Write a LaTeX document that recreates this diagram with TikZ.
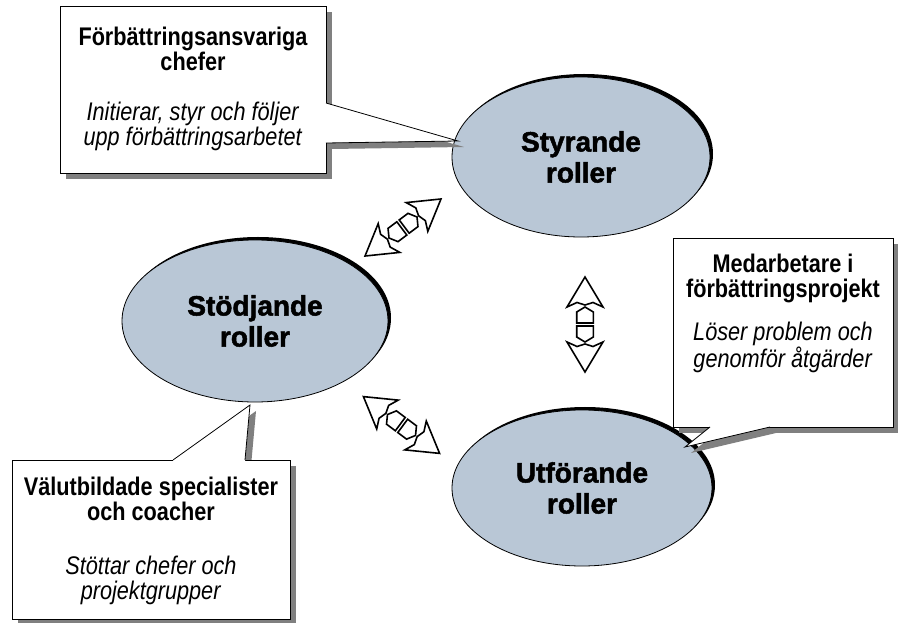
\documentclass[tikz,border=0pt]{standalone}
\usepackage{fontspec}
\setmainfont{Liberation Sans}
\newfontfamily\notefont{Liberation Sans}[FakeStretch=0.85]
\newfontfamily\rolefont{Liberation Sans}[BoldFeatures={FakeBold=1.8}]
\usetikzlibrary{calc,shapes.geometric,shadows}
\definecolor{rolefill}{RGB}{185,199,214}
\definecolor{noteshadow}{RGB}{128,128,128}
\newcommand{\dblarrow}[2]{
	\begin{scope}[shift={(#1)},rotate=#2]
	\draw[arrowline] (47.5,0) -- (17.5,18) -- (22,8) -- (19.5,0) -- (22,-8) -- (17.5,-18) -- cycle;
	\draw[arrowline] (-47.5,0) -- (-17.5,18) -- (-22,8) -- (-19.5,0) -- (-22,-8) -- (-17.5,-18) -- cycle;
	\draw[arrowline] (17.5,0) -- (12.5,8.3) -- (1.5,8.3) -- (1.5,-8.3) -- (12.5,-8.3) -- cycle;
	\draw[arrowline] (-17.5,0) -- (-12.5,8.3) -- (-1.5,8.3) -- (-1.5,-8.3) -- (-12.5,-8.3) -- cycle;
	\end{scope}
}
\newcommand{\ptrshadow}[3]{
	\fill[noteshadow] ($(#1)+(6,-6)$) -- ($(#2)+(6,-6)$) -- ($(#3)+(6,-6)$) -- cycle;
}
\newcommand{\ptr}[4]{
	\fill[white] ($(#1)+(#4)$) -- (#1) -- (#2) -- (#3) -- ($(#3)+(#4)$) -- cycle;
	\draw[noteline] (#1) -- (#2) -- (#3);
}

\begin{document}
\begin{tikzpicture}[x=1pt,y=1pt,
	role/.style={ellipse, draw, fill=rolefill, line width=0.8pt, align=center,
		font=\rolefont\bfseries\fontsize{28}{31}\selectfont,
		general shadow={fill=black, shadow xshift=3pt, shadow yshift=3pt}},
	notebox/.style={draw, fill=white, line width=0.8pt,
		general shadow={fill=noteshadow, shadow xshift=6pt, shadow yshift=-6pt}},
	notetext/.style={align=center, font=\notefont\fontsize{25.5}{25}\selectfont},
	noteline/.style={line width=0.8pt},
	arrowline/.style={line width=1.6pt, line join=miter}]
	\useasboundingbox (0,0) rectangle (898,622);

	% roles
	\node[role, minimum width=258pt, minimum height=160pt] (sty) at (581,465) {Styrande\\roller};
	\node[role, minimum width=266pt, minimum height=162pt] (stod) at (255,301) {Stödjande\\roller};
	\node[role, minimum width=260pt, minimum height=156pt] (utf) at (582,134) {Utförande\\roller};

	% double arrows
	\coordinate (a1) at (403,394.5);
	\coordinate (a2) at (585,297.5);
	\coordinate (a3) at (401.5,197);
	\dblarrow{a1}{36.9}
	\dblarrow{a2}{90}
	\dblarrow{a3}{-36.7}

	% callouts
	\coordinate (c1p) at (326,519); \coordinate (c1q) at (326,479); \coordinate (c1tip) at (458,481);
	\coordinate (c2p) at (710,195); \coordinate (c2q) at (770,195); \coordinate (c2tip) at (685,175);
	\coordinate (c3p) at (173,162); \coordinate (c3q) at (245,162); \coordinate (c3tip) at (250,217);
	\ptrshadow{c1p}{c1tip}{c1q}
	\ptrshadow{c2p}{c2tip}{c2q}
	\ptrshadow{c3p}{c3tip}{c3q}

	\node[notebox, minimum width=266pt, minimum height=167pt] (c1box) at (193,532.5) {};
	\node[notebox, minimum width=220pt, minimum height=189pt] (c2box) at (783,289.5) {};
	\node[notebox, minimum width=278pt, minimum height=159pt] (c3box) at (151,82.5) {};

	\ptr{c1p}{c1tip}{c1q}{-2,0}
	\ptr{c2p}{c2tip}{c2q}{0,2}
	\ptr{c3p}{c3tip}{c3q}{0,-2}

	\node[notetext] (c1) at (193,533) {\textbf{Förbättringsansvariga}\\\textbf{chefer}\\[25pt]\textit{Initierar, styr och följer}\\\textit{upp förbättringsarbetet}};
	\node[notetext] (c2) at (783,308.5) {\textbf{Medarbetare i}\\\textbf{förbättringsprojekt}\\[18pt]\textit{Löser problem och}\\\textit{genomför åtgärder}};
	\node[notetext] (c3) at (151,81.5) {\textbf{Välutbildade specialister}\\\textbf{och coacher}\\[29pt]\textit{Stöttar chefer och}\\\textit{projektgrupper}};
\end{tikzpicture}
\end{document}
